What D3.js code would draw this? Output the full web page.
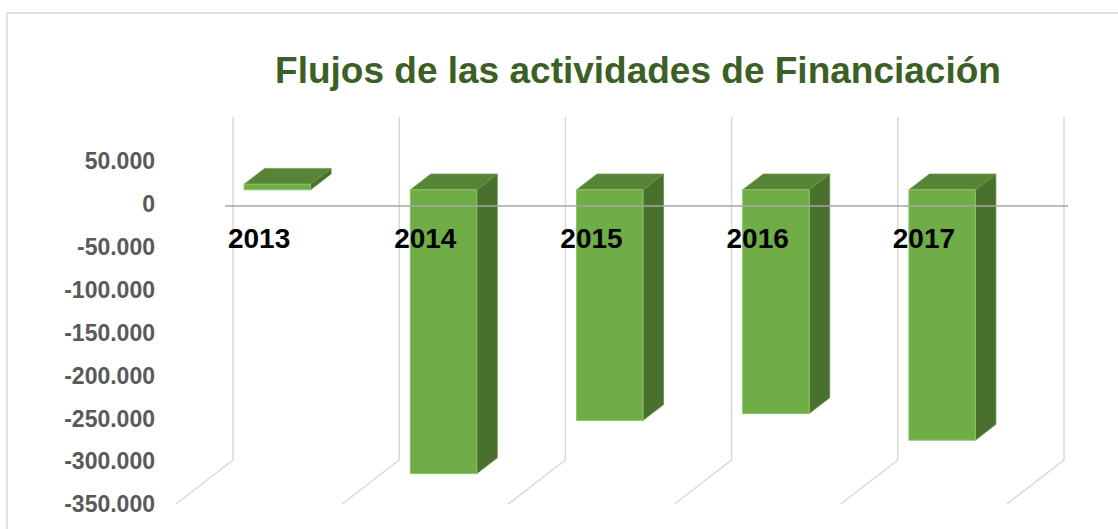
<!DOCTYPE html>
<html>
<head>
<meta charset="utf-8">
<script src="https://cdn.jsdelivr.net/npm/d3@7"></script>
<style>
  body { margin: 0; background: #fff; }
  text { font-family: "Liberation Sans", Arial, sans-serif; font-weight: bold; }
</style>
</head>
<body>
<div id="chart"></div>
<script>
// data
var years = ["2013", "2014", "2015", "2016", "2017"];
var flujos = [6500, -331000, -269000, -261000, -292000];
var yTicks = [50000, 0, -50000, -100000, -150000, -200000, -250000, -300000, -350000];

var svgWidth = 1118;
var svgHeight = 529;

// back wall of the 3d plot and the depth vector (back -> front)
var wall = { left: 233, right: 1064, top: 117, bottom: 460 };
var depth = { dx: -57, dy: 44 };
var barDepth = [0.32, 0.68]; // bars sit in the middle of the depth

var svg = d3.select("#chart")
    .append("svg")
    .attr("width", svgWidth)
    .attr("height", svgHeight);

// outer border
svg.append("path")
    .attr("d", "M7,529 V13 H1118")
    .attr("fill", "none")
    .attr("stroke", "#d9d9d9")
    .attr("stroke-width", 1.5);

svg.append("text")
    .attr("x", 638)
    .attr("y", 83)
    .attr("text-anchor", "middle")
    .attr("font-size", 37)
    .attr("fill", "#3b5f25")
    .text("Flujos de las actividades de Financiación");

var x = d3.scaleBand()
    .domain(years)
    .range([wall.left, wall.right]);

var y = d3.scaleLinear()
    .domain([-350000, 50000])
    .range([wall.bottom, wall.top]);

// project a point from the back plane at depth fraction t
function px(xb, t) { return xb + depth.dx * t; }
function py(yb, t) { return yb + depth.dy * t; }

// back wall vertical lines + floor lines
var edges = x.domain().map(function(d) { return x(d); }).concat([x.range()[1]]);
var grid = svg.append("g");
edges.forEach(function(e) {
    grid.append("line")
        .attr("x1", e).attr("x2", e)
        .attr("y1", y(50000)).attr("y2", y(-350000))
        .attr("stroke", "#d9d9d9").attr("stroke-width", 1.5);
    grid.append("line")
        .attr("x1", e).attr("x2", px(e, 1))
        .attr("y1", y(-350000)).attr("y2", py(y(-350000), 1))
        .attr("stroke", "#d9d9d9").attr("stroke-width", 1.5);
});

// y axis labels on the front edge (es format: dot thousands, plain hyphen)
var fmt = d3.format(",");
svg.append("g")
    .selectAll("text")
    .data(yTicks)
    .enter()
    .append("text")
    .attr("x", 155)
    .attr("y", d => py(y(d), 1))
    .attr("dy", "0.36em")
    .attr("text-anchor", "end")
    .attr("font-size", 23)
    .attr("fill", "#595959")
    .text(d => fmt(d).replace(/,/g, ".").replace("\u2212", "-"));

// 3d bars
var barW = x.bandwidth() * 0.4;
var t0 = barDepth[0], t1 = barDepth[1];
var bars = svg.append("g")
    .selectAll("g")
    .data(years.map((d, i) => ({ year: d, value: flujos[i] })))
    .enter()
    .append("g");

function pt(xb, yb, t) { return [px(xb, t), py(yb, t)]; }
function poly(pts) { return "M" + pts.map(p => p.join(",")).join("L") + "Z"; }

bars.each(function(d) {
    var g = d3.select(this);
    var xl = x(d.year) + (x.bandwidth() - barW) / 2;
    var xr = xl + barW;
    var yt = y(Math.max(0, d.value));
    var yb = y(Math.min(0, d.value));
    // side face
    g.append("path")
        .attr("d", poly([pt(xr, yt, t1), pt(xr, yt, t0), pt(xr, yb, t0), pt(xr, yb, t1)]))
        .attr("fill", "#4a702d")
        .attr("stroke", "#5f8a40").attr("stroke-width", 0.7);
    // top face
    g.append("path")
        .attr("d", poly([pt(xl, yt, t1), pt(xl, yt, t0), pt(xr, yt, t0), pt(xr, yt, t1)]))
        .attr("fill", "#578436")
        .attr("stroke", "#6a9c48").attr("stroke-width", 0.7);
    // front face
    g.append("path")
        .attr("d", poly([pt(xl, yt, t1), pt(xr, yt, t1), pt(xr, yb, t1), pt(xl, yb, t1)]))
        .attr("fill", "#70ad47")
        .attr("stroke", "#8cc465").attr("stroke-width", 1);
});

// horizontal axis line at zero
svg.append("line")
    .attr("x1", x.range()[0] - 8)
    .attr("x2", x.range()[1] + 4)
    .attr("y1", py(y(0), 1) + 2)
    .attr("y2", py(y(0), 1) + 2)
    .attr("stroke", "#a6a6a6")
    .attr("stroke-width", 1.5);

// category labels
svg.append("g")
    .selectAll("text")
    .data(years)
    .enter()
    .append("text")
    .attr("x", d => px(x(d) + x.bandwidth() / 2, 1))
    .attr("y", 248)
    .attr("text-anchor", "middle")
    .attr("font-size", 28)
    .attr("fill", "#000")
    .text(d => d);
</script>
</body>
</html>
